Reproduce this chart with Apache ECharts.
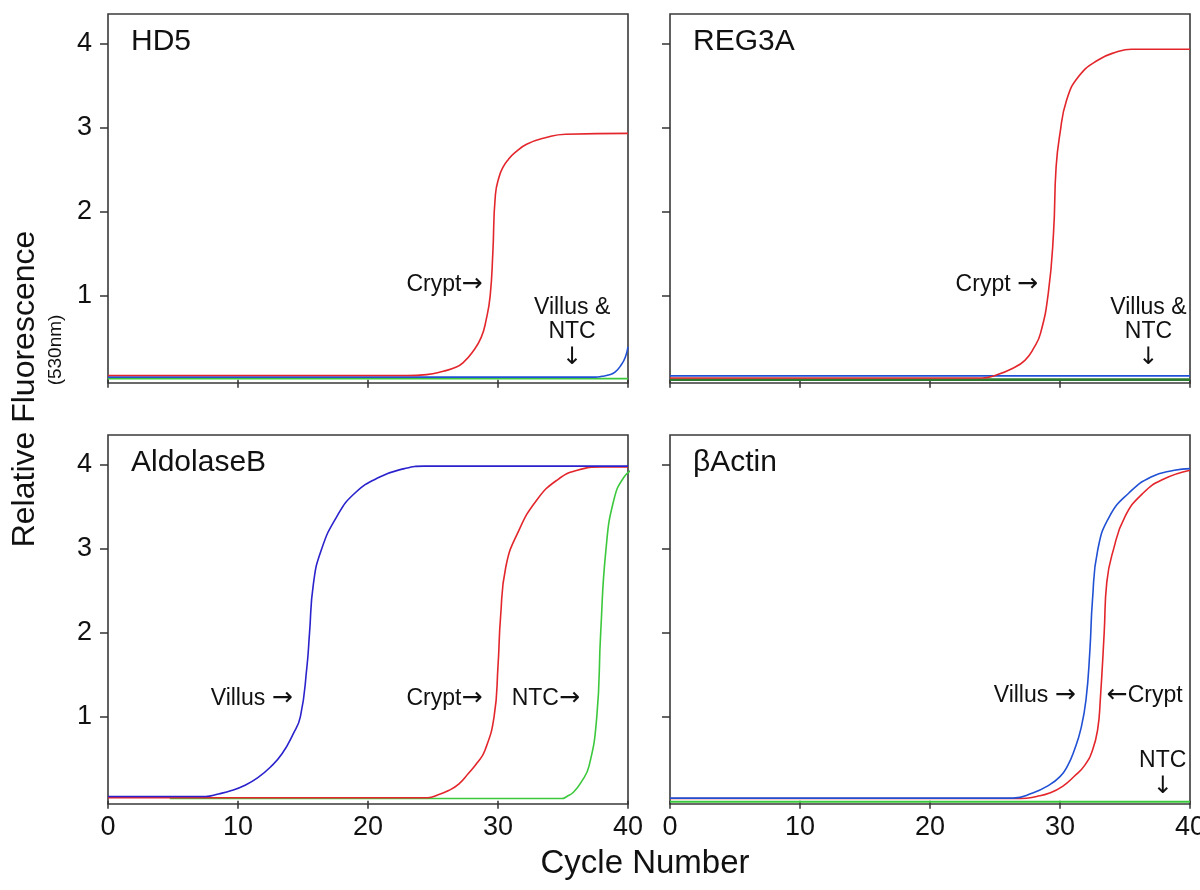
<!DOCTYPE html>
<html><head><meta charset="utf-8">
<script src="https://cdn.jsdelivr.net/npm/echarts@6/dist/echarts.min.js"></script>
<style>html,body{margin:0;padding:0;background:#fff}#c{width:1200px;height:890px}</style>
</head><body><div id="c"></div>
<script>
// ---- data (cycle, relative fluorescence) ----
const panelNames = ['HD5', 'REG3A', 'AldolaseB', 'βActin'];
const xTicks = [0, 10, 20, 30, 40];
const yTicks = [1, 2, 3, 4];

const hd5Crypt = [[0,0.05],[23,0.05],[24.5,0.06],[25.8,0.1],[26.8,0.15],[27.3,0.2],[28,0.32],[28.7,0.5],[29.1,0.72],[29.4,1.0],[29.6,1.5],[29.8,2.2],[30.1,2.42],[30.4,2.53],[30.8,2.62],[31.3,2.7],[32.2,2.8],[33.7,2.88],[35.2,2.92],[40,2.93]];
const hd5Villus = [[0,0.03],[37.5,0.03],[38,0.04],[38.5,0.055],[39,0.09],[39.5,0.18],[39.8,0.27],[40,0.39]];
const hd5NTC = [[0,0.012],[40,0.012]];

const reg3aCrypt = [[0,0.02],[24,0.02],[25,0.05],[26.3,0.13],[27.3,0.23],[28,0.38],[28.5,0.55],[29.1,1.03],[29.5,1.74],[29.7,2.53],[30,2.93],[30.5,3.32],[31.4,3.6],[32.9,3.8],[34.4,3.9],[35.5,3.93],[40,3.93]];
const reg3aVillus = [[0,0.045],[40,0.045]];
const reg3aNTC = [[0,0.0],[40,0.0]];

const aldoVillus = [[0,0.05],[7.5,0.05],[8.5,0.08],[9.5,0.12],[10.5,0.18],[11.5,0.27],[12.5,0.4],[13.4,0.56],[14.2,0.78],[14.8,1.0],[15.3,1.59],[15.5,1.99],[15.8,2.58],[16.4,2.98],[17.6,3.38],[19,3.66],[20.9,3.85],[22.8,3.95],[24.3,3.98],[40,3.98]];
const aldoCrypt = [[0,0.035],[24.6,0.035],[25.4,0.07],[26.2,0.12],[27,0.2],[27.7,0.32],[28.4,0.45],[29,0.6],[29.7,1.0],[30,1.6],[30.2,2.19],[30.6,2.78],[31.5,3.18],[33,3.58],[34.6,3.82],[36.1,3.93],[38,3.97],[40,3.97]];
const aldoNTC = [[4.75,0.025],[34.9,0.025],[35.3,0.05],[35.8,0.1],[36.4,0.22],[37,0.41],[37.6,1.0],[37.9,2.0],[38.3,2.98],[38.9,3.57],[39.7,3.85],[40.6,3.96]];

const actinVillus = [[0,0.03],[26.4,0.03],[27.9,0.09],[29,0.17],[30,0.285],[30.6,0.42],[31.1,0.6],[31.6,0.85],[32,1.2],[32.3,1.79],[32.5,2.39],[32.9,2.98],[33.8,3.38],[35.3,3.66],[37,3.85],[38.8,3.93],[40,3.95]];
const actinCrypt = [[0,0.025],[27,0.025],[28.2,0.05],[29.2,0.09],[30.2,0.17],[31.1,0.29],[31.9,0.42],[32.5,0.6],[32.9,0.85],[33.1,1.2],[33.4,2.0],[33.6,2.6],[34.1,2.98],[35,3.38],[36.4,3.66],[37.9,3.82],[40,3.93]];
const actinNTC = [[0,-0.012],[40,-0.012]];

// annotations anchored in data coordinates: [panel, text, cycle, value, align]
const annotations = [
  [0, 'Crypt{a|→}', 28.8, 1.13, 'right'],
  [0, 'Villus &\nNTC\n{b|↓}', 35.7, 0.55, 'center'],
  [1, 'Crypt {a|→}', 28.3, 1.13, 'right'],
  [1, 'Villus &\nNTC\n{b|↓}', 36.8, 0.55, 'center'],
  [2, 'Villus {a|→}', 14.2, 1.21, 'right'],
  [2, 'Crypt{a|→}', 28.8, 1.21, 'right'],
  [2, 'NTC{a|→}', 36.3, 1.21, 'right'],
  [3, 'Villus {a|→}', 31.2, 1.245, 'right'],
  [3, '{a|←}Crypt', 33.6, 1.245, 'left'],
  [3, 'NTC\n{b|↓}', 37.9, 0.31, 'center']
];

// ---- chart ----
const FONT = '"Liberation Sans", Arial, Helvetica, sans-serif';
const RED = '#e3262c', BLUE = '#2a22cc', BLUE2 = '#2050d4', GREEN = '#3cc83c', DKGREEN = '#2e7a2e';
const grids = [
  {left:108, top:14, width:520, height:369},
  {left:670, top:14, width:520, height:369},
  {left:108, top:435, width:520, height:369},
  {left:670, top:435, width:520, height:369}
];
const panelSeries = [
  [[hd5NTC, GREEN, 1.6], [hd5Villus, BLUE2, 1.6], [hd5Crypt, RED, 1.6]],
  [[reg3aNTC, DKGREEN, 2.6], [reg3aVillus, BLUE2, 1.6], [reg3aCrypt, RED, 1.6]],
  [[aldoNTC, GREEN, 1.6], [aldoCrypt, RED, 1.6], [aldoVillus, BLUE, 1.6]],
  [[actinNTC, GREEN, 2], [actinCrypt, RED, 1.6], [actinVillus, BLUE2, 1.6]]
];

const chart = echarts.init(document.getElementById('c'), null, {renderer: 'canvas'});
const tickStyle = {color: '#333', width: 1.5};
const option = {
  animation: false,
  backgroundColor: '#fff',
  grid: grids.map(g => Object.assign({show: true, borderColor: '#3a3a3a', borderWidth: 1.6, backgroundColor: 'transparent', containLabel: false, outerBoundsMode: 'none'}, g)),
  xAxis: grids.map((g, i) => ({
    type: 'value', gridIndex: i, min: 0, max: 40, interval: 10,
    axisLine: {show: false},
    axisTick: {show: true, length: 8, inside: false, lineStyle: tickStyle},
    axisLabel: {show: i >= 2, fontSize: 27, color: '#111', fontFamily: FONT, margin: 10, hideOverlap: false},
    splitLine: {show: false}
  })),
  yAxis: grids.map((g, i) => ({
    type: 'value', gridIndex: i, min: -0.04, max: 4.35,
    axisLine: {show: false},
    axisTick: {show: true, length: 8, lineStyle: tickStyle, customValues: yTicks},
    axisLabel: {show: i % 2 === 0, fontSize: 27, color: '#111', fontFamily: FONT, margin: 16, customValues: yTicks},
    splitLine: {show: false}
  })),
  series: []
};
panelSeries.forEach((list, i) => {
  list.forEach(([data, color, w]) => {
    option.series.push({
      type: 'line', xAxisIndex: i, yAxisIndex: i, data: data,
      showSymbol: false, smooth: 0.5,
      clip: false, silent: true,
      lineStyle: {color: color, width: w}, itemStyle: {color: color}
    });
  });
});
chart.setOption(option);

// ---- texts ----
const graphics = [];
grids.forEach((g, i) => {
  graphics.push({type: 'text', x: g.left + 23, y: g.top + 28,
    style: {text: panelNames[i], font: '30px ' + FONT, fill: '#111', verticalAlign: 'middle', align: 'left'}});
});
const arrowRich = {
  a: {fontFamily: '"DejaVu Sans", sans-serif', fontSize: 25, fill: '#111', lineHeight: 25},
  b: {fontFamily: '"DejaVu Sans", sans-serif', fontSize: 24, fill: '#111', lineHeight: 28}
};
annotations.forEach(([p, text, cx, cy, align]) => {
  const pt = chart.convertToPixel({gridIndex: p}, [cx, cy]);
  graphics.push({type: 'text', x: pt[0], y: pt[1],
    style: {text: text, fontFamily: FONT, fontSize: 23, fill: '#111', align: align, verticalAlign: 'middle', lineHeight: 24, rich: arrowRich}});
});
graphics.push({type: 'text', x: 645, y: 864,
  style: {text: 'Cycle Number', font: '33px ' + FONT, fill: '#111', align: 'center', verticalAlign: 'middle'}});
graphics.push({type: 'text', x: 25, y: 389, rotation: Math.PI / 2,
  style: {text: 'Relative Fluorescence', font: '32px ' + FONT, fill: '#111', align: 'center', verticalAlign: 'middle'}});
graphics.push({type: 'text', x: 56, y: 350, rotation: Math.PI / 2,
  style: {text: '(530nm)', font: '19px ' + FONT, fill: '#111', align: 'center', verticalAlign: 'middle'}});
chart.setOption({graphic: graphics});
</script></body></html>
